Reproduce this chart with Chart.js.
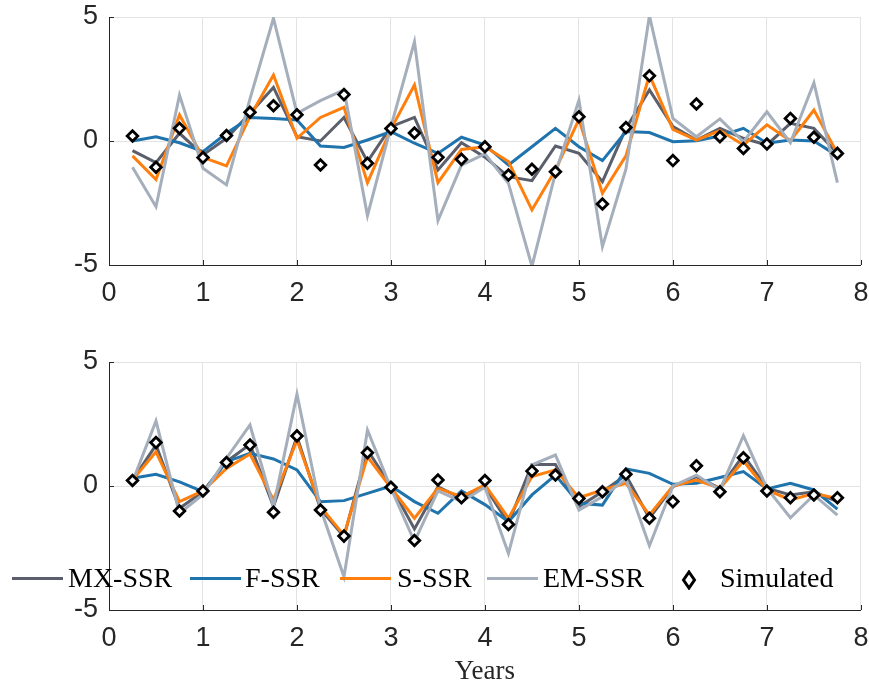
<!DOCTYPE html>
<html>
<head>
<meta charset="utf-8">
<script src="https://cdn.jsdelivr.net/npm/chart.js@4/dist/chart.umd.min.js"></script>
<style>
  html, body { margin:0; padding:0; background:#fff; }
  #wrap { position:relative; width:869px; height:686px; overflow:hidden; }
  canvas { position:absolute; left:0; }
  .lg { position:absolute; font-family:'Liberation Serif','Times New Roman',serif; font-size:28px; line-height:28px; color:#000; white-space:nowrap; }
  .sw { position:absolute; height:3px; }
</style>
</head>
<body>
<div id="wrap">
  <canvas id="c1" width="869" height="343" style="top:0"></canvas>
  <canvas id="c2" width="869" height="343" style="top:343px"></canvas>
  <div id="legend"></div>
</div>
<script>
// ---- data ----
const years = [0.25,0.5,0.75,1.0,1.25,1.5,1.75,2.0,2.25,2.5,2.75,3.0,3.25,3.5,3.75,4.0,4.25,4.5,4.75,5.0,5.25,5.5,5.75,6.0,6.25,6.5,6.75,7.0,7.25,7.5,7.75];
const seriesNames = ['MX-SSR','F-SSR','S-SSR','EM-SSR','Simulated'];
const xTicks = [0,1,2,3,4,5,6,7,8];
const yTicks = [-5,0,5];

// top panel
const mxTop  = [-0.39,-0.87,0.31,-0.56,0.11,1.12,2.16,0.17,0,0.95,-0.83,0.58,0.95,-1.17,-0.07,-0.65,-1.44,-1.6,-0.2,-0.5,-1.64,0.51,2.06,0.58,0.04,0.51,0.11,-0.16,0.71,0.51,-0.5];
const fTop   = [0,0.17,-0.07,-0.43,0.31,0.95,0.91,0.85,-0.2,-0.26,0.04,0.38,-0.09,-0.5,0.15,-0.16,-0.97,-0.23,0.51,-0.23,-0.79,0.38,0.34,-0.03,0.01,0.2,0.51,-0.09,0.04,0,-0.6];
const sTop   = [-0.6,-1.55,1.05,-0.66,-1.0,0.98,2.66,0.11,0.95,1.36,-1.68,0.48,2.26,-1.68,-0.34,-0.23,-0.83,-2.78,-1.17,0.87,-2.11,-0.6,2.66,0.47,0.04,0.42,-0.16,0.65,0.01,1.25,-0.5];
const emTop  = [-1.06,-2.65,1.85,-1.1,-1.77,1.7,4.95,1.12,1.63,2.06,-3.01,0.58,4.0,-3.21,-0.97,-0.52,-1.71,-5.05,-1.3,1.65,-4.26,-1.14,5.05,0.91,0.17,0.89,-0.03,1.18,-0.07,2.35,-1.68];
const simTop = [0.2,-1.06,0.51,-0.67,0.22,1.16,1.42,1.06,-0.97,1.87,-0.9,0.5,0.32,-0.66,-0.74,-0.23,-1.37,-1.14,-1.24,0.98,-2.54,0.54,2.63,-0.79,1.49,0.17,-0.3,-0.12,0.91,0.15,-0.5];

// bottom panel
const mxBot  = [0.24,1.65,-0.9,-0.23,0.98,1.68,-0.83,1.99,-0.93,-2.04,1.45,0,-1.73,-0.03,-0.5,-0.03,-1.5,0.87,0.87,-0.83,-0.23,0.44,-1.3,-0.03,0.38,-0.09,1.25,-0.09,-0.36,-0.23,-0.63];
const fBot   = [0.31,0.47,0.17,-0.23,0.98,1.32,1.09,0.65,-0.63,-0.59,-0.3,0,-0.63,-1.1,-0.2,-0.75,-1.44,-0.36,0.44,-0.7,-0.77,0.69,0.51,0.07,0.11,0.34,0.58,-0.12,0.11,-0.16,-0.93];
const sBot   = [0.24,1.38,-0.63,-0.2,0.71,1.29,-0.56,1.85,-0.83,-1.98,1.18,-0.07,-1.3,-0.09,-0.43,0.04,-1.3,0.38,0.65,-0.47,-0.16,0.11,-1.17,0,0.24,-0.09,1.01,-0.16,-0.56,-0.3,-0.5];
const emBot  = [0.17,2.62,-1.1,-0.34,1.12,2.46,-0.83,3.7,-0.9,-3.66,2.26,-0.09,-2.24,-0.2,-0.63,-0.05,-2.72,0.85,1.25,-0.97,-0.43,0.28,-2.41,0,0.44,-0.16,2.03,-0.09,-1.28,-0.36,-1.17];
const simBot = [0.22,1.75,-1.01,-0.2,0.95,1.65,-1.06,2.02,-0.97,-2.02,1.34,-0.05,-2.2,0.24,-0.47,0.22,-1.55,0.6,0.44,-0.5,-0.23,0.47,-1.3,-0.63,0.82,-0.23,1.14,-0.2,-0.47,-0.36,-0.47];

const colors = ['#5b5f6b','#1f74ad','#ff7f0e','#a5aebb','#000000'];
const axisColor = '#262626';
const gridColor = '#e3e3e3';

function pts(vals){ return years.map((x,i)=>({x:x, y:vals[i]})); }

function makeDatasets(mx,f,s,em,sim){
  const lines = [mx,f,s,em].map((v,i)=>({
    label: seriesNames[i], data: pts(v), borderColor: colors[i], backgroundColor: colors[i],
    borderWidth: 3, pointRadius: 0, tension: 0, fill:false, order: 5 - i
  }));
  lines.push({
    label: seriesNames[4], data: pts(sim), showLine:false,
    pointStyle:'rectRot', pointRadius: 5.3, pointHoverRadius:5.3,
    pointBorderWidth: 2.8, pointBorderColor:'#000', pointBackgroundColor:'#fff', order: 0
  });
  return lines;
}

const innerTicks = {
  id:'innerTicks',
  afterDraw(chart){
    const ctx = chart.ctx, a = chart.chartArea;
    const xs = chart.scales.x, ys = chart.scales.y;
    ctx.save();
    ctx.strokeStyle = axisColor; ctx.lineWidth = 1;
    ctx.beginPath();
    xTicks.forEach(t=>{ const px = Math.round(xs.getPixelForValue(t))+0.5; ctx.moveTo(px, a.bottom); ctx.lineTo(px, a.bottom-5); });
    yTicks.forEach(t=>{ const py = Math.round(ys.getPixelForValue(t))+0.5; ctx.moveTo(a.left, py); ctx.lineTo(a.left+5, py); });
    ctx.stroke();
    ctx.restore();
  }
};

function makeOptions(isBottom){
  const tickFont = {family:"'Liberation Sans', Arial, Helvetica, sans-serif", size:27};
  return {
    responsive:false, animation:false, devicePixelRatio:1,
    layout:{ padding:{ left:0, right:8, top: isBottom ? 19 : 17, bottom:0 } },
    plugins:{ legend:{display:false}, tooltip:{enabled:false} },
    scales:{
      x:{
        type:'linear', min:0, max:8,
        afterBuildTicks(sc){ sc.ticks = xTicks.map(v=>({value:v})); },
        afterFit(sc){ sc.height = isBottom ? 76 : 78; sc.paddingLeft = 0; sc.paddingRight = 0; },
        grid:{ color:gridColor, lineWidth:1, drawTicks:false },
        border:{ display:true, color:axisColor, width:1 },
        ticks:{ font:tickFont, color:axisColor, padding:12, maxRotation:0, autoSkip:false },
        title: isBottom ? { display:true, text:'Years', color:axisColor,
          font:{family:"'Liberation Serif','Times New Roman',serif", size:27, lineHeight:1.05}, padding:0 } : {display:false}
      },
      y:{
        type:'linear', min:-5, max:5,
        afterBuildTicks(sc){ sc.ticks = yTicks.map(v=>({value:v})); },
        afterFit(sc){ sc.width = 109; sc.paddingTop = 0; sc.paddingBottom = 0; },
        grid:{ color:gridColor, lineWidth:1, drawTicks:false },
        border:{ display:true, color:axisColor, width:1 },
        ticks:{ font:tickFont, color:axisColor, padding:11 }
      }
    }
  };
}

new Chart(document.getElementById('c1'), {
  type:'line',
  data:{ datasets: makeDatasets(mxTop,fTop,sTop,emTop,simTop) },
  options: makeOptions(false),
  plugins:[innerTicks]
});
new Chart(document.getElementById('c2'), {
  type:'line',
  data:{ datasets: makeDatasets(mxBot,fBot,sBot,emBot,simBot) },
  options: makeOptions(true),
  plugins:[innerTicks]
});

// ---- legend (HTML, built from series names / colours) ----
const legendSwatchX = [12,190,340,487];
const legendTextX = [68,245,397,543,720];
const lg = document.getElementById('legend');
seriesNames.forEach((name,i)=>{
  if (i < 4) {
    const sw = document.createElement('div');
    sw.className = 'sw';
    sw.style.left = legendSwatchX[i]+'px'; sw.style.width = '51px'; sw.style.top = '577px';
    sw.style.background = colors[i];
    lg.appendChild(sw);
  } else {
    const ns = 'http://www.w3.org/2000/svg';
    const svg = document.createElementNS(ns,'svg');
    svg.setAttribute('width','16'); svg.setAttribute('height','20');
    svg.style.position='absolute'; svg.style.left='681px'; svg.style.top='570px';
    const p = document.createElementNS(ns,'polygon');
    p.setAttribute('points','8,2 13.5,10 8,18 2.5,10');
    p.setAttribute('fill','#fff'); p.setAttribute('stroke','#000'); p.setAttribute('stroke-width','3');
    svg.appendChild(p); lg.appendChild(svg);
  }
  const t = document.createElement('div');
  t.className = 'lg'; t.textContent = name;
  t.style.left = legendTextX[i]+'px'; t.style.top = '564px';
  lg.appendChild(t);
});
</script>
</body>
</html>
